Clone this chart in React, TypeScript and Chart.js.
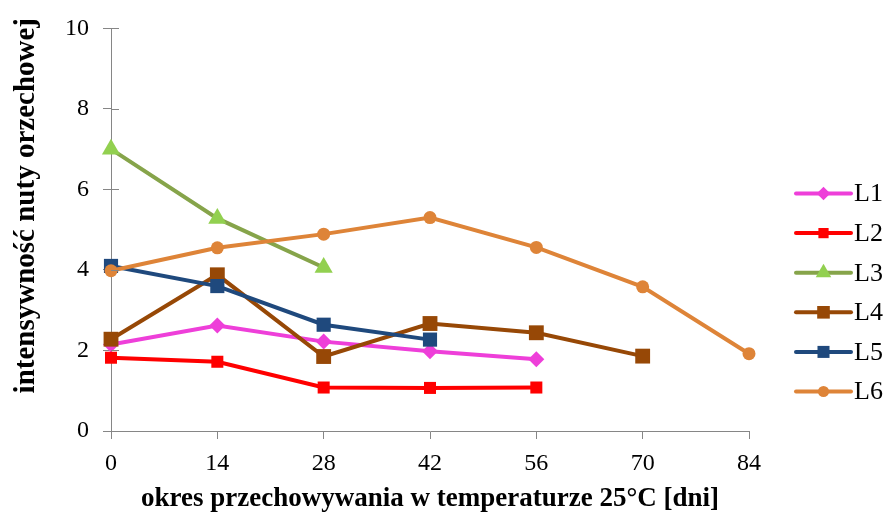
import React, { useEffect, useRef } from "react";
import { Chart, registerables } from "chart.js";

Chart.register(...registerables);

const days = [0, 14, 28, 42, 56, 70, 84];
const seriesNames = ["L1", "L2", "L3", "L4", "L5", "L6"];
const L1 = [2.15, 2.62, 2.22, 1.98, 1.78];
const L2 = [1.82, 1.72, 1.08, 1.07, 1.08];
const L3 = [7.0, 5.28, 4.06];
const L4 = [2.28, 3.88, 1.85, 2.67, 2.44, 1.86];
const L5 = [4.1, 3.6, 2.64, 2.27];
const L6 = [3.98, 4.55, 4.89, 5.3, 4.56, 3.58, 1.92];
const yTitle = "intensywność nuty orzechowej";
const xTitle = "okres przechowywania w temperaturze 25°C [dni]";

const FONT = "'Liberation Serif', 'Times New Roman', serif";

const styles = [
  { line: "#EE3FD9", fill: "#EE3FD9", pointStyle: "rectRot", radius: 8 },
  { line: "#FF0000", fill: "#FF0000", pointStyle: "rect", radius: 8.5 },
  { line: "#86A44A", fill: "#92D050", pointStyle: "triangle", radius: 10.5 },
  { line: "#974806", fill: "#974806", pointStyle: "rect", radius: 10.5 },
  { line: "#1F497D", fill: "#1F497D", pointStyle: "rect", radius: 10 },
  { line: "#DE8438", fill: "#DE8438", pointStyle: "circle", radius: 6.5 },
];

const allSeries = [L1, L2, L3, L4, L5, L6];

function drawMarker(ctx: CanvasRenderingContext2D, style: string, x: number, y: number, r: number) {
  ctx.beginPath();
  if (style === "circle") {
    ctx.arc(x, y, r, 0, Math.PI * 2);
  } else if (style === "rect") {
    const s = Math.SQRT1_2 * r;
    ctx.rect(x - s, y - s, 2 * s, 2 * s);
  } else if (style === "rectRot") {
    ctx.moveTo(x - r, y);
    ctx.lineTo(x, y - r);
    ctx.lineTo(x + r, y);
    ctx.lineTo(x, y + r);
    ctx.closePath();
  } else if (style === "triangle") {
    for (let k = 0; k < 3; k++) {
      const a = (k * 2 * Math.PI) / 3;
      const px = x + Math.sin(a) * r;
      const py = y - Math.cos(a) * r;
      if (k === 0) ctx.moveTo(px, py);
      else ctx.lineTo(px, py);
    }
    ctx.closePath();
  }
  ctx.fill();
}

const legendPlugin = {
  id: "customLegend",
  afterDraw(chart: any) {
    const ctx = chart.ctx as CanvasRenderingContext2D;
    const area = chart.chartArea;
    const x0 = area.right + 47;
    const lineLen = 55;
    const spacing = 39.6;
    const centerY = area.top + (area.bottom - area.top) * 0.656;
    const startY = centerY - (spacing * (seriesNames.length - 1)) / 2;
    ctx.save();
    seriesNames.forEach((name, i) => {
      const st = styles[i];
      const y = startY + i * spacing;
      ctx.strokeStyle = st.line;
      ctx.lineWidth = 4;
      ctx.lineCap = "round";
      ctx.beginPath();
      ctx.moveTo(x0, y);
      ctx.lineTo(x0 + lineLen, y);
      ctx.stroke();
      ctx.fillStyle = st.fill;
      drawMarker(ctx, st.pointStyle, x0 + lineLen / 2, y, st.pointStyle === "triangle" ? 9 : st.radius * 0.85);
      ctx.fillStyle = "#000";
      ctx.font = `26px ${FONT}`;
      ctx.textBaseline = "middle";
      ctx.textAlign = "left";
      ctx.fillText(name, x0 + lineLen + 3, y + 1);
    });
    ctx.restore();
  },
};

const yTitlePlugin = {
  id: "yTitle",
  afterDraw(chart: any) {
    const ctx = chart.ctx as CanvasRenderingContext2D;
    const area = chart.chartArea;
    ctx.save();
    ctx.translate(27, (area.top + area.bottom) / 2 - 24);
    ctx.rotate(-Math.PI / 2);
    ctx.fillStyle = "#000";
    ctx.font = `bold 29px ${FONT}`;
    ctx.textAlign = "center";
    ctx.textBaseline = "middle";
    ctx.fillText(yTitle, 0, 0);
    ctx.restore();
  },
};

const crossTicks = {
  id: "crossTicks",
  afterDatasetsDraw(chart: any) {
    const ctx = chart.ctx as CanvasRenderingContext2D;
    const ys = chart.scales.y;
    const left = chart.chartArea.left;
    ctx.save();
    ctx.strokeStyle = "#868686";
    ctx.lineWidth = 1;
    ys.ticks.forEach((t: any) => {
      const py = Math.round(ys.getPixelForValue(t.value)) + 0.5;
      ctx.beginPath();
      ctx.moveTo(left, py);
      ctx.lineTo(left + 8, py);
      ctx.stroke();
    });
    ctx.restore();
  },
};

export default function App() {
  const ref = useRef<HTMLCanvasElement | null>(null);
  useEffect(() => {
    document.body.style.margin = "0";
    if (!ref.current) return;
    const datasets = allSeries.map((vals, i) => ({
      label: seriesNames[i],
      data: vals.map((v, j) => ({ x: days[j], y: v })),
      borderColor: styles[i].line,
      backgroundColor: styles[i].fill,
      pointBackgroundColor: styles[i].fill,
      pointBorderColor: styles[i].fill,
      pointStyle: styles[i].pointStyle,
      pointRadius: styles[i].radius,
      pointBorderWidth: 0,
      borderWidth: 4,
      tension: 0,
      fill: false,
      clip: false,
      order: allSeries.length - 1 - i,
    }));
    const chart = new Chart(ref.current, {
      type: "line",
      data: { datasets },
      options: {
        animation: false,
        responsive: true,
        maintainAspectRatio: false,
        layout: { padding: { top: 26, right: 138, left: 0, bottom: 0 } },
        plugins: { legend: { display: false }, tooltip: { enabled: false } },
        scales: {
          x: {
            type: "linear",
            min: 0,
            max: 84,
            afterFit: (s: any) => {
              s.height = 81;
            },
            ticks: { stepSize: 14, color: "#000", font: { family: FONT, size: 24 }, padding: 10, maxRotation: 0 },
            grid: { drawOnChartArea: false, color: "#868686", tickLength: 8 },
            border: { color: "#868686", width: 1 },
            title: { display: true, text: xTitle, color: "#000", font: { family: FONT, size: 27, weight: "bold" }, padding: { top: 0, bottom: -3 } },
          },
          y: {
            min: 0,
            max: 10,
            afterFit: (s: any) => {
              s.width = 111;
            },
            ticks: { stepSize: 2, color: "#000", font: { family: FONT, size: 24 }, padding: 14 },
            grid: { drawOnChartArea: false, color: "#868686", tickLength: 8 },
            border: { color: "#868686", width: 1 },
            title: { display: false },
          },
        },
      },
      plugins: [legendPlugin, crossTicks, yTitlePlugin],
    } as any);
    return () => chart.destroy();
  }, []);
  return (
    <div style={{ width: 887, height: 512, position: "relative" }}>
      <canvas ref={ref} />
    </div>
  );
}
